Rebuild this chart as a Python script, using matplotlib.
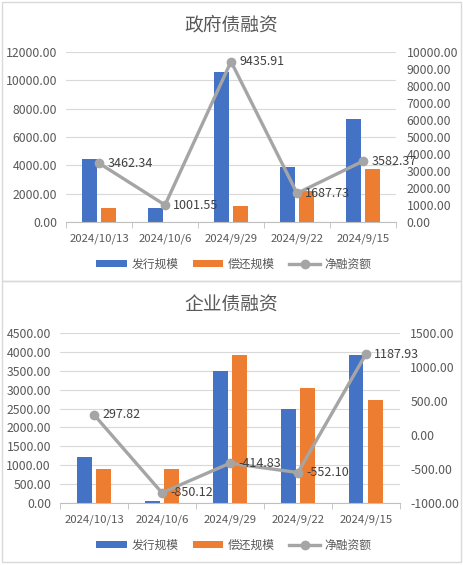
import numpy as np
import matplotlib.pyplot as plt
from matplotlib.patches import Rectangle

plt.rcParams['font.family'] = ['Noto Sans CJK SC', 'DejaVu Sans']

# data
dates = ['2024/10/13', '2024/10/6', '2024/9/29', '2024/9/22', '2024/9/15']

gov_issue = [4450, 1001.55, 10600, 3900, 7300]
gov_repay = [990, 0, 1165, 2210, 3720]
gov_net = [3462.34, 1001.55, 9435.91, 1687.73, 3582.37]

corp_issue = [1210, 50, 3500, 2490, 3910]
corp_repay = [912, 900, 3915, 3042, 2722]
corp_net = [297.82, -850.12, -414.83, -552.10, 1187.93]

blue = '#4472C4'
orange = '#ED7D31'
grey = '#A5A5A5'
txt = '#595959'

fig = plt.figure(figsize=(4.63, 5.65), dpi=100)


def panel(rect, title, issue, repay, net, lmax, lstep, rmin, rmax, rstep, title_y, legend_y):
    ax = fig.add_axes(rect)
    x = np.arange(len(dates))
    w = 0.22
    ax.bar(x - 0.145, issue, w, color=blue, label='发行规模', zorder=2)
    ax.bar(x + 0.145, repay, w, color=orange, label='偿还规模', zorder=2)
    ax.set_xlim(-0.5, len(dates) - 0.5)
    ax.set_ylim(0, lmax)
    ax.set_yticks(np.arange(0, lmax + 1, lstep))
    ax.yaxis.set_major_formatter(lambda v, p: f'{v:.2f}')
    ax.grid(axis='y', color='#D9D9D9', lw=0.8, zorder=0)
    ax.set_axisbelow(True)
    for s in ['top', 'left', 'right']:
        ax.spines[s].set_visible(False)
    ax.spines['bottom'].set_color('#BFBFBF')
    ax.set_xticks(x)
    ax.set_xticklabels(dates)
    ax.set_xticks(np.arange(-0.5, len(dates)), minor=True)
    ax.tick_params(axis='x', which='major', length=0, pad=8, labelsize=8.2, labelcolor=txt)
    ax.tick_params(axis='x', which='minor', length=4, color='#BFBFBF')
    ax.tick_params(axis='y', length=0, labelsize=8.8, labelcolor=txt, pad=6.5)

    ax2 = ax.twinx()
    ax2.plot(x, net, color=grey, lw=2.4, marker='o', ms=6, label='净融资额', zorder=3)
    ax2.set_ylim(rmin, rmax)
    ax2.set_yticks(np.arange(rmin, rmax + 1, rstep))
    ax2.yaxis.set_major_formatter(lambda v, p: f'{v:.2f}')
    for s in ax2.spines.values():
        s.set_visible(False)
    ax2.tick_params(axis='y', length=0, labelsize=8.8, labelcolor=txt, pad=7.5)
    for xi, v in zip(x, net):
        ax2.annotate(f'{v:.2f}', (xi, v), xytext=(6, 0), textcoords='offset points',
                     ha='left', va='center', fontsize=9, color='#404040')

    fig.text(0.5, title_y, title, ha='center', va='center', fontsize=13.5, color=txt)
    h1, l1 = ax.get_legend_handles_labels()
    h2, l2 = ax2.get_legend_handles_labels()
    fig.legend(h1 + h2, l1 + l2, loc='center', bbox_to_anchor=(0.505, legend_y), ncol=3,
               frameon=False, fontsize=8.5, labelcolor=txt, handlelength=2.6,
               handleheight=0.5, columnspacing=1.2, handletextpad=0.4)
    return ax


panel([0.1425, 0.607, 0.713, 0.301], '政府债融资', gov_issue, gov_repay, gov_net,
      12000, 2000, 0, 10000, 1000, 1 - 25 / 565, 1 - 264 / 565)
panel([0.1296, 0.1097, 0.734, 0.301], '企业债融资', corp_issue, corp_repay, corp_net,
      4500, 500, -1000, 1500, 500, 1 - 305 / 565, 1 - 545 / 565)

# chart borders
fig.patches.append(Rectangle((2 / 463, 1 - 281 / 565), 459 / 463, 279 / 565,
                             transform=fig.transFigure, fill=False, ec='#D9D9D9', lw=1))
fig.patches.append(Rectangle((2 / 463, 1 - 562 / 565), 459 / 463, 281 / 565,
                             transform=fig.transFigure, fill=False, ec='#D9D9D9', lw=1))

fig.savefig('out.png', dpi=100)
